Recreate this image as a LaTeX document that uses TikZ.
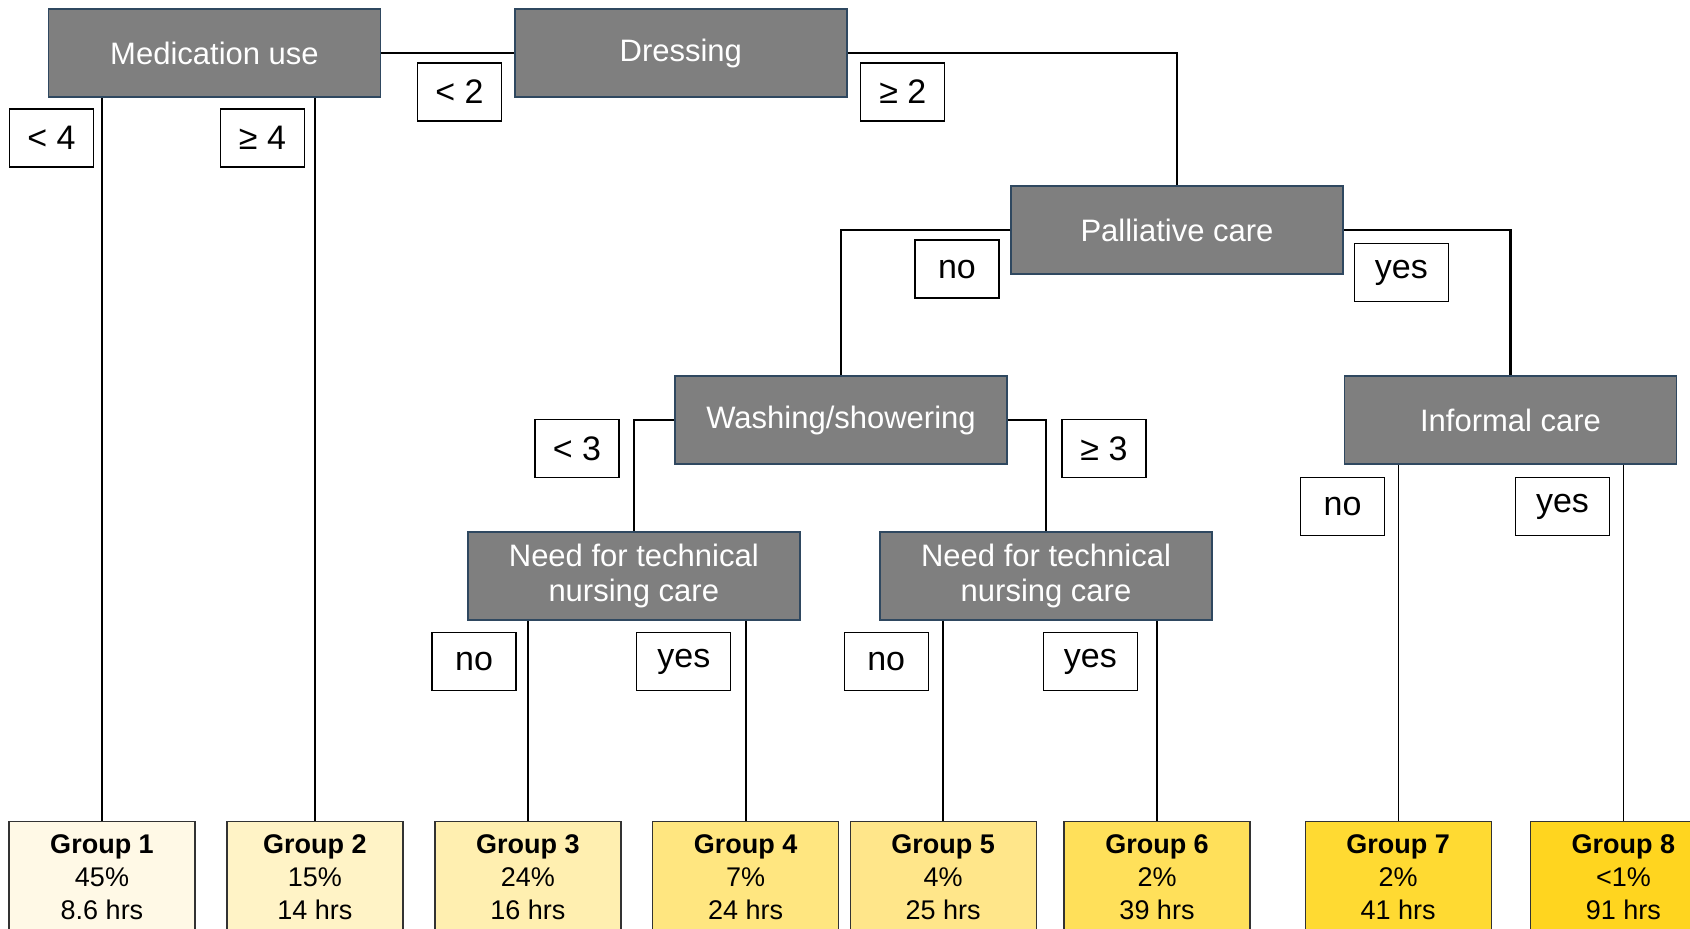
\documentclass[tikz,border=0pt]{standalone}
\usepackage{fontspec}
\setmainfont{Liberation Sans}
\usepackage{xcolor}
\usepackage{tikz}
\usetikzlibrary{positioning}

\definecolor{splitgray}{HTML}{7F7F7F}
\definecolor{splitedge}{HTML}{2F4860}
\definecolor{groupA}{HTML}{FFF9E6}
\definecolor{groupB}{HTML}{FFF3C6}
\definecolor{groupC}{HTML}{FFEFB0}
\definecolor{groupD}{HTML}{FFE680}
\definecolor{groupE}{HTML}{FFE68A}
\definecolor{groupF}{HTML}{FFE05A}
\definecolor{groupG}{HTML}{FFDA32}
\definecolor{groupH}{HTML}{FFD51F}

\newcommand{\grouptext}[4]{\parbox[t][60pt][t]{#1}{\centering\textbf{Group #2}\\#3\\#4}}

\begin{document}
\begin{tikzpicture}[
  x=0.5pt, y=-0.5pt,
  split/.style={draw=splitedge, line width=0.75pt, fill=splitgray, text=white, align=center, minimum width=166pt, minimum height=44pt, inner sep=0pt, font=\fontsize{15.5}{17.5}\selectfont},
  cut/.style={draw, line width=0.6pt, fill=white, minimum width=42pt, minimum height=29pt, inner sep=0pt, font=\fontsize{17}{20}\selectfont},
  cutwide/.style={cut, minimum width=47pt},
  group/.style={draw=black!80, line width=0.6pt, inner xsep=0pt, inner ysep=6.9pt, font=\fontsize{13.5}{16.5}\selectfont},
  conn/.style={line width=1.1pt},
  thinconn/.style={line width=0.7pt}
]
\useasboundingbox (0,0) rectangle (1690,929);
\clip (0,0) rectangle (1690,929);

\node[split] (med) at (214.5,53.25) {Medication use};
\node[split, right=66.4pt of med] (dress) {Dressing};
\node[split, below right=43.65pt and 81.35pt of dress] (pall) {Palliative care};
\node[split, below left=50.3pt and 1.25pt of pall] (wash) {Washing/showering};
\node[split, below right=50.3pt and 0pt of pall] (inf) {Informal care};
\node[split, below=33.25pt of wash, xshift=-103.6pt] (tech1) {Need for technical\\nursing care};
\node[split, below=33.25pt of wash, xshift=102.5pt] (tech2) {Need for technical\\nursing care};

\node[cut, below=5.25pt of med.south west, xshift=1.9pt] (lt4) {< 4};
\node[cut, below=5.25pt of med.south, xshift=24pt] (ge4) {≥ 4};
\node[cut, right=17.75pt of med.east, yshift=-19.4pt] (lt2) {< 2};
\node[cut, right=6.3pt of dress.east, yshift=-19.4pt] (ge2) {≥ 2};
\node[cut, left=5.35pt of pall.west, yshift=-19.5pt] (pallno) {no};
\node[cutwide, right=5pt of pall.east, yshift=-21.3pt] (pallyes) {yes};
\node[cut, left=27.3pt of wash.west, yshift=-14.25pt] (lt3) {< 3};
\node[cut, right=26.8pt of wash.east, yshift=-14.25pt] (ge3) {≥ 3};
\node[cut, below=5.5pt of tech1.south west, xshift=3.5pt] (tech1no) {no};
\node[cutwide, below=5.5pt of tech1.south, xshift=25pt] (tech1yes) {yes};
\node[cut, below=5.5pt of tech2.south west, xshift=3.45pt] (tech2no) {no};
\node[cutwide, below=5.5pt of tech2.south, xshift=22.15pt] (tech2yes) {yes};
\node[cut, below=6pt of inf.south west, xshift=-0.6pt] (infno) {no};
\node[cutwide, below=6pt of inf.south, xshift=26pt] (infyes) {yes};

\node[group, fill=groupA, below=361.25pt of med, xshift=-56.25pt] (g1) {\grouptext{93pt}{1}{45\%}{8.6 hrs}};
\node[group, fill=groupB, right=15.35pt of g1] (g2) {\grouptext{88pt}{2}{15\%}{14 hrs}};
\node[group, fill=groupC, right=15.4pt of g2] (g3) {\grouptext{93pt}{3}{24\%}{16 hrs}};
\node[group, fill=groupD, right=15.25pt of g3] (g4) {\grouptext{93pt}{4}{7\%}{24 hrs}};
\node[group, fill=groupE, right=5.2pt of g4] (g5) {\grouptext{93pt}{5}{4\%}{25 hrs}};
\node[group, fill=groupF, right=13.3pt of g5] (g6) {\grouptext{93pt}{6}{2\%}{39 hrs}};
\node[group, fill=groupG, right=27pt of g6] (g7) {\grouptext{93pt}{7}{2\%}{41 hrs}};
\node[group, fill=groupH, right=19pt of g7] (g8) {\grouptext{93pt}{8}{<1\%}{91 hrs}};

\draw[conn] (med.east) -- (dress.west);
\draw[conn] (dress.east) -| (pall.north);
\draw[conn] (pall.west) -| (wash.north);
\draw[conn] (pall.east) -| (inf.north);
\draw[conn] (wash.west) -| (tech1.north);
\draw[conn] (wash.east) -| (tech2.north);
\draw[conn] (med.south -| g1.north) -- (g1.north);
\draw[conn] (med.south -| g2.north) -- (g2.north);
\draw[conn] (tech1.south -| g3.north) -- (g3.north);
\draw[conn] (tech1.south -| g4.north) -- (g4.north);
\draw[conn] (tech2.south -| g5.north) -- (g5.north);
\draw[conn] (tech2.south -| g6.north) -- (g6.north);
\draw[thinconn] (inf.south -| g7.north) -- (g7.north);
\draw[thinconn] (inf.south -| g8.north) -- (g8.north);
\end{tikzpicture}
\end{document}
